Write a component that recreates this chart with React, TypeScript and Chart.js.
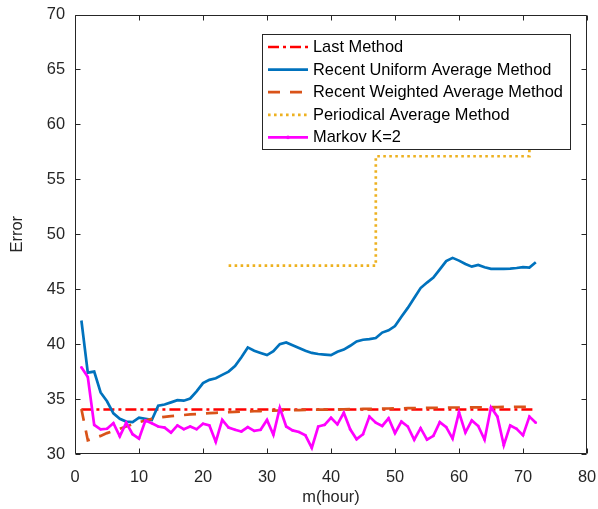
import React, { useEffect, useRef } from "react";
import { Chart, registerables } from "chart.js";

Chart.register(...registerables);

const hours = [
  1, 2, 3, 4, 5, 6, 7, 8, 9, 10, 11, 12, 13, 14, 15, 16, 17, 18, 19, 20,
  21, 22, 23, 24, 25, 26, 27, 28, 29, 30, 31, 32, 33, 34, 35, 36, 37, 38, 39, 40,
  41, 42, 43, 44, 45, 46, 47, 48, 49, 50, 51, 52, 53, 54, 55, 56, 57, 58, 59, 60,
  61, 62, 63, 64, 65, 66, 67, 68, 69, 70, 71, 72,
];

const lastMethod = [
  34.05, 34.05, 34.05, 34.05, 34.05, 34.05, 34.05, 34.05, 34.05, 34.05,
  34.05, 34.05, 34.05, 34.05, 34.05, 34.05, 34.05, 34.05, 34.05, 34.05,
  34.05, 34.05, 34.05, 34.05, 34.05, 34.05, 34.05, 34.05, 34.05, 34.05,
  34.05, 34.05, 34.05, 34.05, 34.05, 34.05, 34.05, 34.05, 34.05, 34.05,
  34.05, 34.05, 34.05, 34.05, 34.05, 34.05, 34.05, 34.05, 34.05, 34.05,
  34.05, 34.05, 34.05, 34.05, 34.05, 34.05, 34.05, 34.05, 34.05, 34.05,
  34.05, 34.05, 34.05, 34.05, 34.05, 34.05, 34.05, 34.05, 34.05, 34.05,
  34.05, 34.05,
];

const uniformAvg = [
  42.15, 37.4, 37.5, 35.6, 34.8, 33.7, 33.2, 32.95, 32.9, 33.3,
  33.2, 33.1, 34.4, 34.5, 34.7, 34.9, 34.85, 35.05, 35.7, 36.45,
  36.75, 36.9, 37.2, 37.5, 38.0, 38.8, 39.7, 39.4, 39.2, 39.0,
  39.35, 40.0, 40.15, 39.9, 39.65, 39.4, 39.2, 39.1, 39.05, 39.0,
  39.3, 39.5, 39.85, 40.25, 40.4, 40.45, 40.55, 41.05, 41.25, 41.65,
  42.5, 43.3, 44.2, 45.1, 45.6, 46.05, 46.8, 47.55, 47.85, 47.6,
  47.3, 47.05, 47.2, 47.0, 46.85, 46.85, 46.85, 46.88, 46.93, 47.0,
  46.96, 47.45,
];

const weightedAvg = [
  34.1, 31.25, 31.45, 31.65, 31.9, 32.1, 32.3, 32.5, 32.7, 32.9,
  33.05, 33.2, 33.3, 33.38, 33.45, 33.5, 33.55, 33.6, 33.64, 33.68,
  33.72, 33.75, 33.78, 33.8, 33.83, 33.85, 33.87, 33.89, 33.91, 33.93,
  33.95, 33.96, 33.97, 33.98, 34.0, 34.01, 34.02, 34.03, 34.04, 34.05,
  34.06, 34.07, 34.08, 34.09, 34.1, 34.11, 34.12, 34.13, 34.14, 34.15,
  34.16, 34.17, 34.18, 34.19, 34.2, 34.2, 34.21, 34.22, 34.23, 34.23,
  34.24, 34.25, 34.25, 34.26, 34.27, 34.27, 34.28, 34.28, 34.29, 34.29,
  34.3, 34.3,
];

const periodicHours = [24, 47, 47, 71, 71];
const periodicAvg = [47.15, 47.15, 57.1, 57.1, 66];

const markovK2 = [
  37.9, 37.0, 32.65, 32.25, 32.3, 32.8, 31.6, 32.85, 31.8, 31.4,
  33.05, 32.8, 32.5, 32.4, 31.95, 32.6, 32.25, 32.5, 32.25, 32.75,
  32.6, 31.1, 33.1, 32.4, 32.2, 32.05, 32.45, 32.1, 32.2, 33.1,
  31.75, 34.2, 32.5, 32.15, 32.0, 31.7, 30.55, 32.5, 32.65, 33.3,
  32.7, 33.75, 32.25, 31.35, 31.8, 33.4, 32.85, 32.55, 33.25, 31.9,
  32.95, 32.5, 31.3, 32.35, 31.3, 31.65, 32.9, 32.45, 31.4, 33.8,
  31.95, 33.05, 32.55, 31.3, 34.25, 33.4, 30.8, 32.6, 32.3, 31.7,
  33.4, 32.85,
];

const xTicks = [0, 10, 20, 30, 40, 50, 60, 70, 80];
const yTicks = [30, 35, 40, 45, 50, 55, 60, 65, 70];

const seriesLabels = [
  "Last Method",
  "Recent Uniform Average Method",
  "Recent Weighted Average Method",
  "Periodical Average Method",
  "Markov K=2",
];

const FONT = "'Liberation Sans', Arial, Helvetica, sans-serif";
const FS = 16.4;
const AXIS = "#262626";

const toPoints = (xs: number[], ys: number[]) => xs.map((x, i) => ({ x, y: ys[i] }));

const framePlugin = {
  id: "matlabFrame",
  afterDraw(chart: any) {
    const { ctx, chartArea: a, scales } = chart;
    ctx.save();
    ctx.strokeStyle = AXIS;
    ctx.lineWidth = 1;
    ctx.setLineDash([]);
    const L = Math.round(a.left) + 0.5;
    const R = Math.round(a.right) - 0.5;
    const T = Math.round(a.top) + 0.5;
    const B = Math.round(a.bottom) - 0.5;
    ctx.beginPath();
    ctx.rect(L, T, R - L, B - T);
    ctx.stroke();
    const tl = 5;
    ctx.beginPath();
    xTicks.forEach((v) => {
      const px = Math.round(scales.x.getPixelForValue(v)) + 0.5;
      ctx.moveTo(px, B);
      ctx.lineTo(px, B - tl);
      ctx.moveTo(px, T);
      ctx.lineTo(px, T + tl);
    });
    yTicks.forEach((v) => {
      const py = Math.round(scales.y.getPixelForValue(v)) + 0.5;
      ctx.moveTo(L, py);
      ctx.lineTo(L + tl, py);
      ctx.moveTo(R, py);
      ctx.lineTo(R - tl, py);
    });
    ctx.stroke();

    // legend box
    const box = { left: 262.5, top: 34.5, right: 570.5, bottom: 149.5 };
    ctx.fillStyle = "#ffffff";
    ctx.fillRect(box.left, box.top, box.right - box.left, box.bottom - box.top);
    ctx.strokeStyle = AXIS;
    ctx.lineWidth = 1;
    ctx.strokeRect(box.left, box.top, box.right - box.left, box.bottom - box.top);
    const rowY0 = 47;
    const rowGap = 22.6;
    ctx.font = `${FS}px ${FONT}`;
    ctx.textBaseline = "middle";
    ctx.textAlign = "left";
    chart.data.datasets.forEach((ds: any, i: number) => {
      const y = rowY0 + i * rowGap;
      ctx.save();
      ctx.strokeStyle = ds.borderColor;
      ctx.lineWidth = ds.borderWidth;
      ctx.lineCap = "butt";
      ctx.setLineDash(ds.borderDash || []);
      ctx.beginPath();
      ctx.moveTo(268, y);
      ctx.lineTo(308, y);
      ctx.stroke();
      if (ds.pointRadius > 0) {
        ctx.setLineDash([]);
        ctx.fillStyle = ds.borderColor;
        ctx.beginPath();
        ctx.arc(288, y, ds.pointRadius + 0.5, 0, Math.PI * 2);
        ctx.fill();
      }
      ctx.restore();
      ctx.fillStyle = "#000000";
      ctx.fillText(ds.label, 313, y + 0.5);
    });
    ctx.restore();
  },
};

export default function App() {
  const canvasRef = useRef<HTMLCanvasElement | null>(null);

  useEffect(() => {
    const canvas = canvasRef.current;
    if (!canvas) return;
    const chart = new Chart(canvas, {
      type: "line",
      data: {
        datasets: [
          {
            label: seriesLabels[0],
            data: toPoints(hours, lastMethod),
            borderColor: "#FF0000",
            borderWidth: 2.7,
            borderDash: [11, 4, 3, 4],
            pointRadius: 0,
            tension: 0,
            order: 5,
          },
          {
            label: seriesLabels[1],
            data: toPoints(hours, uniformAvg),
            borderColor: "#0072BD",
            borderWidth: 2.7,
            pointRadius: 0,
            tension: 0,
            order: 4,
          },
          {
            label: seriesLabels[2],
            data: toPoints(hours, weightedAvg),
            borderColor: "#D95319",
            borderWidth: 2.7,
            borderDash: [12, 10],
            pointRadius: 0,
            tension: 0,
            order: 3,
          },
          {
            label: seriesLabels[3],
            data: toPoints(periodicHours, periodicAvg),
            borderColor: "#EDB120",
            borderWidth: 2.7,
            borderDash: [2.6, 3.4],
            pointRadius: 0,
            tension: 0,
            order: 2,
          },
          {
            label: seriesLabels[4],
            data: toPoints(hours, markovK2),
            borderColor: "#FF00FF",
            backgroundColor: "#FF00FF",
            borderWidth: 2.7,
            pointRadius: 1.3,
            pointBorderWidth: 0,
            pointBackgroundColor: "#FF00FF",
            tension: 0,
            order: 1,
          },
        ] as any,
      },
      options: {
        responsive: false,
        animation: false,
        events: [],
        layout: { padding: { left: 0, top: 14.5, right: 11, bottom: 0 } },
        plugins: {
          legend: { display: false },
          tooltip: { enabled: false },
        },
        scales: {
          x: {
            type: "linear",
            min: 0,
            max: 80,
            grid: { display: false, drawTicks: false },
            border: { display: false },
            afterBuildTicks: (s: any) => {
              s.ticks = xTicks.map((v) => ({ value: v }));
            },
            afterFit: (s: any) => {
              s.height = 55;
              s.paddingLeft = 0;
              s.paddingRight = 0;
            },
            ticks: {
              color: AXIS,
              font: { family: FONT, size: FS },
              padding: 13.7,
              maxRotation: 0,
              autoSkip: false,
            },
            title: {
              display: true,
              text: "m(hour)",
              color: AXIS,
              font: { family: FONT, size: FS },
              padding: { top: 0, bottom: 1.2 },
            },
          },
          y: {
            type: "linear",
            min: 30,
            max: 70,
            grid: { display: false, drawTicks: false },
            border: { display: false },
            afterBuildTicks: (s: any) => {
              s.ticks = yTicks.map((v) => ({ value: v }));
            },
            afterFit: (s: any) => {
              s.width = 75;
              s.paddingTop = 0;
              s.paddingBottom = 0;
            },
            ticks: {
              color: AXIS,
              font: { family: FONT, size: FS },
              padding: 10,
              autoSkip: false,
            },
            title: {
              display: true,
              text: "Error",
              color: AXIS,
              font: { family: FONT, size: FS },
              padding: { top: 7.2, bottom: 0 },
            },
          },
        },
      } as any,
      plugins: [framePlugin],
    });
    return () => chart.destroy();
  }, []);

  return (
    <div style={{ position: "absolute", left: 0, top: 0, width: 598, height: 509, background: "#fff" }}>
      <canvas ref={canvasRef} width={598} height={509} style={{ display: "block", width: 598, height: 509 }} />
    </div>
  );
}
